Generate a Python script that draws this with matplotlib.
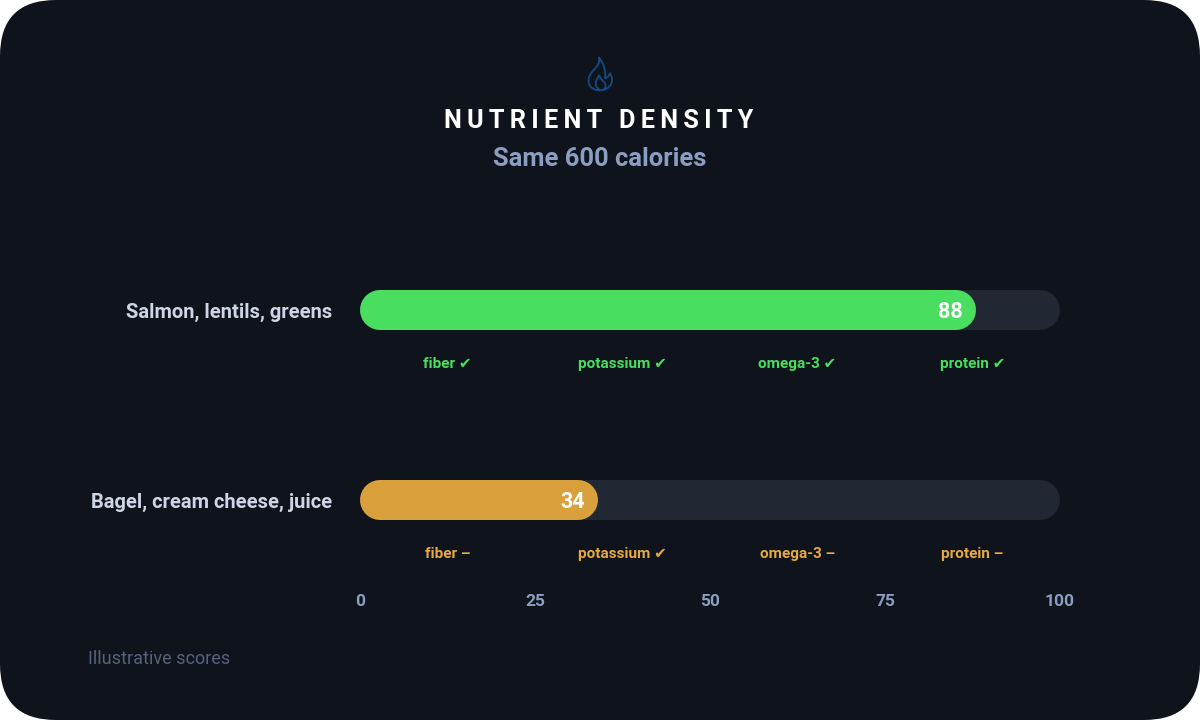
import matplotlib
matplotlib.use("Agg")
import matplotlib.pyplot as plt
from matplotlib.patches import FancyBboxPatch, PathPatch
from matplotlib.path import Path
from matplotlib.transforms import Affine2D

# data
meals = ["Salmon, lentils, greens", "Bagel, cream cheese, juice"]
scores = [88, 34]
nutrients = ["fiber", "potassium", "omega-3", "protein"]
nutrient_pos = [12.5, 37.5, 62.5, 87.5]
marks = [["✔", "✔", "✔", "✔"], ["–", "✔", "–", "–"]]
ticks = [0, 25, 50, 75, 100]
bar_y = [310, 500]
tag_y = [364, 554]
colors = ["#4ade60", "#d9a03c"]
tag_colors = ["#4ade60", "#e8a93f"]

BG = "#0e131c"
TRACK = "#212733"
FONT = ["Roboto", "DejaVu Sans"]
W, H = 1200, 720

fig = plt.figure(figsize=(12, 7.2), dpi=100, facecolor="white")

# card with rounded corners, in figure pixels
card = FancyBboxPatch((0, 0), W, H, boxstyle="round,pad=0,rounding_size=56",
                      transform=None, facecolor=BG, edgecolor="none", zorder=-1)
fig.patches.append(card)

# x axis goes 0-100 across 360-1060 px, y is just pixels from the top
ax = fig.add_axes([360 / W, 0, 700 / W, 1])
ax.set_xlim(0, 100)
ax.set_ylim(H, 0)
ax.axis("off")

cap = 20 / 7  # bar radius in x units
lw = 40 * 0.72

for i, meal in enumerate(meals):
    y = bar_y[i]
    ax.plot([cap, 100 - cap], [y, y], color=TRACK, lw=lw, solid_capstyle="round")
    ax.plot([cap, scores[i] - cap], [y, y], color=colors[i], lw=lw, solid_capstyle="round")
    ax.text(scores[i] - 1.9, y + 1.5, str(scores[i]), color="white", fontsize=15.5, fontweight="bold",
            ha="right", va="center", family=FONT)
    ax.text(-4, y + 2, meal, color="#cdd5e6", fontsize=14.5, fontweight="bold",
            ha="right", va="center", family=FONT)
    for j, n in enumerate(nutrients):
        ax.text(nutrient_pos[j], tag_y[i], n + " " + marks[i][j], color=tag_colors[i], fontsize=11,
                fontweight="bold", ha="center", va="center", family=FONT)

for t in ticks:
    ax.text(t, 601, str(t), color="#8b9dc0", fontsize=12.5, fontweight="bold",
            ha="center", va="center", family=FONT)

# flame icon
M, C = Path.MOVETO, Path.CURVE4
flame = Path(
    [(598.5, 57), (601, 64), (596, 67), (592, 72), (588, 77), (587, 83), (591, 87),
     (594, 90), (599, 91), (603, 90), (608, 89), (612, 85), (612, 80),
     (612, 77), (611, 75), (610, 73), (609, 76), (607, 78), (605, 78),
     (606, 72), (604, 63), (598.5, 57),
     (603, 90), (607, 87), (606, 83), (603, 81), (601, 79), (600, 77), (599, 75),
     (598, 78), (597, 79), (596, 81), (595, 84), (596, 88), (600, 90)],
    [M] + [C] * 21 + [M] + [C] * 12)
fig_px = Affine2D().scale(1, -1).translate(0, H)
fig.patches.append(PathPatch(flame, transform=fig_px, facecolor="none", edgecolor="#144a84", lw=1.3))

# hair spaces stand in for the letter spacing
title = "\u200a\u200a".join("NUTRIENT DENSITY")
fig.text(599 / W, 1 - 121 / H, title, color="white", fontsize=18.2, fontweight="bold",
         ha="center", va="center", family=FONT)
fig.text(600 / W, 1 - 159 / H, "Same 600 calories", color="#8b9dc0", fontsize=18.4, fontweight="bold",
         ha="center", va="center", family=FONT)
fig.text(88 / W, 1 - 659 / H, "Illustrative scores", color="#56627a", fontsize=13,
         ha="left", va="center", family=FONT)

fig.savefig("out.png", dpi=100, facecolor="white")
